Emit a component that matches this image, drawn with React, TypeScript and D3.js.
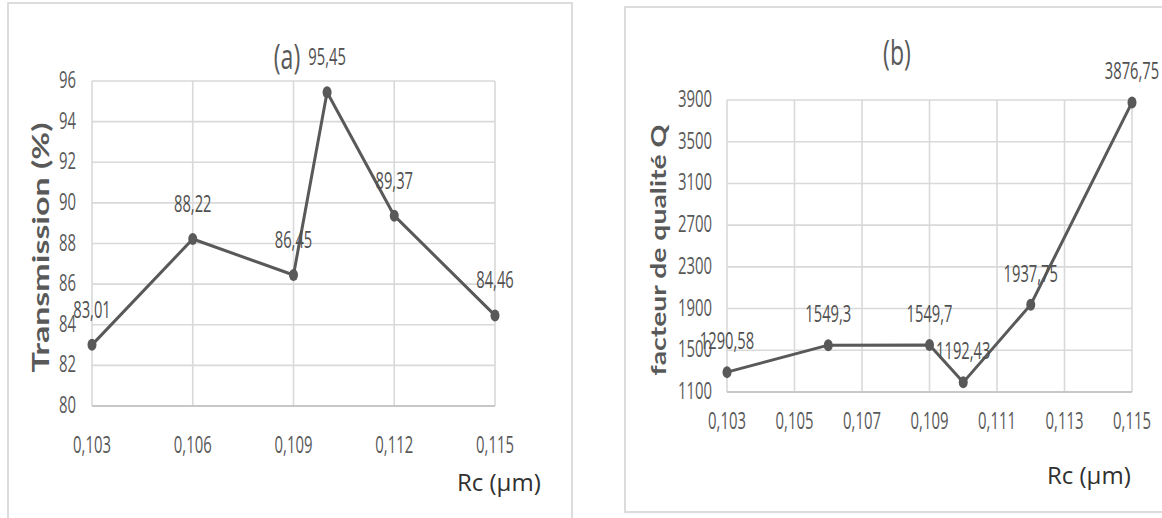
import React from "react";
import * as d3 from "d3";

// ---- data ----
const rcValues = [0.103, 0.106, 0.109, 0.11, 0.112, 0.115];
const transmission = [83.01, 88.22, 86.45, 95.45, 89.37, 84.46];
const qualityFactor = [1290.58, 1549.3, 1549.7, 1192.43, 1937.75, 3876.75];

const xTicksA = [0.103, 0.106, 0.109, 0.112, 0.115];
const yTicksA = [80, 82, 84, 86, 88, 90, 92, 94, 96];
const xTicksB = [0.103, 0.105, 0.107, 0.109, 0.111, 0.113, 0.115];
const yTicksB = [1100, 1500, 1900, 2300, 2700, 3100, 3500, 3900];

const FONT = "'Open Sans', 'Liberation Sans', sans-serif";
const GRID = "#d9d9d9";
const LINE = "#595959";

const fr = (v: number) => String(v).replace(".", ",");
const fx = (v: number) => v.toFixed(3).replace(".", ",");

type TProps = {
  x: number;
  y: number;
  sx?: number;
  size: number;
  fill?: string;
  anchor?: "start" | "middle" | "end";
  weight?: number | string;
  children: React.ReactNode;
};
const T = ({ x, y, sx = 1, size, fill = "#595959", anchor = "middle", weight = 400, children }: TProps) => (
  <text
    transform={`translate(${x},${y}) scale(${sx},1)`}
    textAnchor={anchor}
    dominantBaseline="central"
    fontFamily={FONT}
    fontSize={size}
    fontWeight={weight}
    fill={fill}
  >
    {children}
  </text>
);

type PanelProps = {
  xs: number[];
  ys: number[];
  xDomain: [number, number];
  yDomain: [number, number];
  xTicks: number[];
  yTicks: number[];
  left: number;
  right: number;
  top: number;
  bottom: number;
  labelGap: number;
  title: string;
  titleX: number;
  titleY: number;
  yTitle: string;
  yTitleX: number;
  yTitleLen: number;
  yTitleSize: number;
  xTitleX: number;
  xTitleY: number;
  yLabelRight: number;
  xLabelY: number;
};

const Panel = (p: PanelProps) => {
  const x = d3.scaleLinear().domain(p.xDomain).range([p.left, p.right]);
  const y = d3.scaleLinear().domain(p.yDomain).range([p.bottom, p.top]);
  const pts = p.xs.map((v, i) => [v, p.ys[i]] as [number, number]);
  const line = d3
    .line<[number, number]>()
    .x((d) => x(d[0]))
    .y((d) => y(d[1]));
  const midY = (p.top + p.bottom) / 2 + 4;
  return (
    <g>
      {p.yTicks.map((t) => (
        <line key={"gy" + t} x1={p.left} x2={p.right} y1={y(t)} y2={y(t)} stroke={GRID} strokeWidth={1.6} />
      ))}
      {p.xTicks.map((t) => (
        <line key={"gx" + t} x1={x(t)} x2={x(t)} y1={p.top} y2={p.bottom} stroke={GRID} strokeWidth={1.6} />
      ))}
      <line x1={p.left} x2={p.right} y1={p.bottom} y2={p.bottom} stroke="#c8c8c8" strokeWidth={1.8} />
      {p.yTicks.map((t) => (
        <T key={"ly" + t} x={p.yLabelRight} y={y(t) - 2} sx={0.62} size={24} anchor="end">
          {String(t)}
        </T>
      ))}
      {p.xTicks.map((t) => (
        <T key={"lx" + t} x={x(t)} y={p.xLabelY} sx={0.62} size={24}>
          {fx(t)}
        </T>
      ))}
      <path d={line(pts) || ""} fill="none" stroke={LINE} strokeWidth={3} strokeLinejoin="round" />
      {pts.map((d, i) => (
        <ellipse key={"m" + i} cx={x(d[0])} cy={y(d[1])} rx={4.5} ry={6} fill={LINE} />
      ))}
      {pts.map((d, i) => (
        <T key={"dl" + i} x={x(d[0])} y={y(d[1]) - p.labelGap} sx={0.64} size={23} fill="#505050">
          {fr(d[1])}
        </T>
      ))}
      <T x={p.titleX} y={p.titleY} sx={0.68} size={34} fill="#595959">
        {p.title}
      </T>
      <T x={p.xTitleX} y={p.xTitleY} size={24} fill="#303030" anchor="start">
        Rc (µm)
      </T>
      <text
        transform={`translate(${p.yTitleX},${midY}) rotate(-90)`}
        textAnchor="middle"
        fontFamily="Lato, 'DejaVu Sans', sans-serif"
        fontWeight={700}
        fontSize={p.yTitleSize}
        fill="#595959"
        textLength={p.yTitleLen}
        lengthAdjust="spacingAndGlyphs"
      >
        {p.yTitle}
      </text>
    </g>
  );
};

export default function App() {
  return (
    <svg
      width={1162}
      height={518}
      style={{ position: "absolute", left: 0, top: 0, display: "block", background: "#fff" }}
    >
      <rect x={0} y={0} width={1162} height={518} fill="#fff" />
      <rect x={8} y={3} width={564} height={600} fill="none" stroke={GRID} strokeWidth={1.8} />
      <rect x={625} y={7} width={700} height={505} fill="none" stroke={GRID} strokeWidth={1.8} />
      <Panel
        xs={rcValues}
        ys={transmission}
        xDomain={[0.103, 0.115]}
        yDomain={[80, 96]}
        xTicks={xTicksA}
        yTicks={yTicksA}
        left={92}
        right={495}
        top={81}
        bottom={406}
        labelGap={36}
        title="(a)"
        titleX={287}
        titleY={56}
        yTitle="Transmission (%)"
        yTitleX={49}
        yTitleLen={250}
        yTitleSize={22}
        xTitleX={457}
        xTitleY={481}
        yLabelRight={76}
        xLabelY={444}
      />
      <Panel
        xs={rcValues}
        ys={qualityFactor}
        xDomain={[0.103, 0.115]}
        yDomain={[1100, 3900]}
        xTicks={xTicksB}
        yTicks={yTicksB}
        left={727}
        right={1132}
        top={100}
        bottom={392}
        labelGap={32}
        title="(b)"
        titleX={897}
        titleY={52}
        yTitle="facteur de qualité Q"
        yTitleX={666}
        yTitleLen={251}
        yTitleSize={21}
        xTitleX={1047}
        xTitleY={474}
        yLabelRight={712}
        xLabelY={420}
      />
    </svg>
  );
}
